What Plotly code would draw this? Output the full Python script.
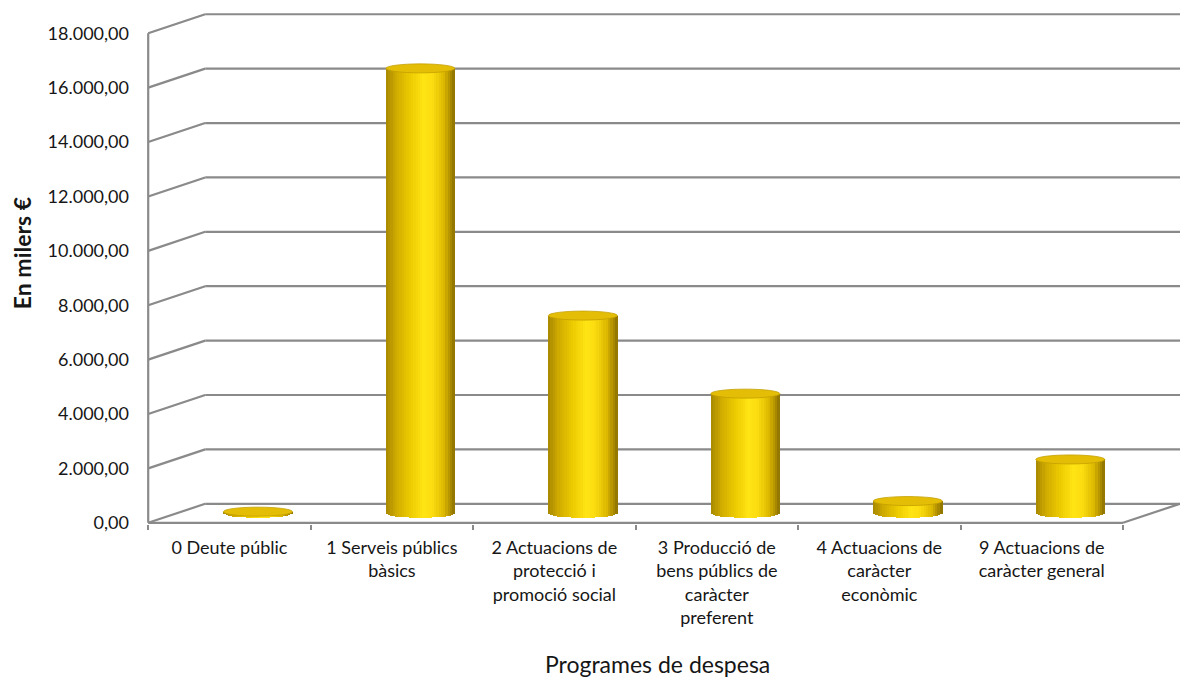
import math
import plotly.graph_objects as go

# ---------------- data ----------------
categories = [
    "0 Deute públic",
    "1 Serveis públics<br>bàsics",
    "2 Actuacions de<br>protecció i<br>promoció social",
    "3 Producció de<br>bens públics de<br>caràcter<br>preferent",
    "4 Actuacions de<br>caràcter<br>econòmic",
    "9 Actuacions de<br>caràcter general",
]
values = [60, 16360, 7270, 4400, 450, 1980]
y_ticks = [0, 2000, 4000, 6000, 8000, 10000, 12000, 14000, 16000, 18000]
y_title = "En milers €"
x_title = "Programes de despesa"

# ---------------- geometry (pixels -> data units) ----------------
W, H = 1180, 678
PX_X = 162.5          # pixels per category
PX_Y = 0.02718        # pixels per unit (value)
FRONT_LEFT = 148.0    # pixel x of front-left corner
FRONT_BOTTOM = 522.7  # pixel y of value 0 on the front plane
PAD = 1.2

dx = 57 / PX_X        # depth offset (back wall) in x units
dy = 19 / PX_Y        # depth offset in y units
cyl_w = 69 / PX_X     # cylinder width
ell = 4.5 / PX_Y      # half height of the cylinder ellipse
b0 = dy / 2           # base level of cylinders (mid depth)
cx = dx / 2           # cylinder center offset

m_l = FRONT_LEFT - PAD
m_r = 0
m_t = 13.2
m_b = H - FRONT_BOTTOM - PAD
x_range = [-0.5 - PAD / PX_X, -0.5 + (W - FRONT_LEFT) / PX_X]
y_range = [-PAD / PX_Y, (FRONT_BOTTOM - m_t) / PX_Y]

LINE = "#8a8a8a"
FONT = "Lato"
TXT = "#161616"

fig = go.Figure()

# ---------------- cylinder shading (strips) ----------------
stops = [(-1.0, (0xA6, 0x87, 0x00)), (-0.7, (0xCF, 0xAB, 0x00)), (-0.3, (0xEC, 0xCA, 0x00)),
         (0.1, (0xFF, 0xE4, 0x14)), (0.35, (0xFB, 0xDD, 0x10)), (0.7, (0xDC, 0xB7, 0x00)),
         (1.0, (0x8C, 0x70, 0x00))]


def shade(u):
    for (u0, c0), (u1, c1) in zip(stops[:-1], stops[1:]):
        if u0 <= u <= u1:
            t = (u - u0) / (u1 - u0)
            c = [round(a + (b - a) * t) for a, b in zip(c0, c1)]
            return "rgb(%d,%d,%d)" % tuple(c)
    return "rgb(%d,%d,%d)" % stops[-1][1]


N = 30
sw = cyl_w / N
for k in range(N):
    u = -1 + (2 * k + 1) / N
    s = math.sqrt(max(0.0, 1 - u * u))
    base_k = b0 - ell * s
    fig.add_trace(go.Bar(
        x=categories,
        y=[v + ell * s for v in values],
        base=base_k,
        width=sw * 1.2,
        offset=cx - cyl_w / 2 + k * sw - 0.1 * sw,
        marker=dict(color=shade(u), line=dict(width=0)),
        showlegend=False,
        hoverinfo="skip",
    ))

shapes = []
# ---------------- walls / grid ----------------
for t in y_ticks:
    shapes.append(dict(type="line", xref="x", yref="y", x0=-0.5, y0=t, x1=-0.5 + dx, y1=t + dy,
                       line=dict(color=LINE, width=2.2), layer="below"))
    shapes.append(dict(type="line", xref="x", yref="y", x0=-0.5 + dx, y0=t + dy, x1=x_range[1] + 0.2, y1=t + dy,
                       line=dict(color=LINE, width=2.2), layer="below"))
# vertical axis line (front-left edge)
shapes.append(dict(type="line", xref="x", yref="y", x0=-0.5, y0=0, x1=-0.5, y1=y_ticks[-1],
                   line=dict(color=LINE, width=2.2), layer="below"))
# floor front edge and right diagonal
n = len(categories)
shapes.append(dict(type="line", xref="x", yref="y", x0=-0.5, y0=0, x1=n - 0.5, y1=0,
                   line=dict(color=LINE, width=2.2), layer="below"))
shapes.append(dict(type="line", xref="x", yref="y", x0=n - 0.5, y0=0, x1=n - 0.5 + dx, y1=dy,
                   line=dict(color=LINE, width=2.2), layer="below"))

# ---------------- cylinder tops ----------------
for i, v in enumerate(values):
    shapes.append(dict(type="circle", xref="x", yref="y",
                       x0=i + cx - cyl_w / 2, x1=i + cx + cyl_w / 2,
                       y0=b0 + v - ell, y1=b0 + v + ell,
                       fillcolor="#E4BE06", line=dict(color="#C49F00", width=0.8), layer="above"))

fig.update_layout(
    width=W, height=H,
    margin=dict(l=m_l, r=m_r, t=m_t, b=m_b, autoexpand=False),
    paper_bgcolor="white", plot_bgcolor="white",
    barmode="overlay",
    bargap=0,
    separators=",.",
    font=dict(family=FONT, color=TXT),
    shapes=shapes,
    showlegend=False,
)

fig.update_xaxes(
    type="category", range=x_range, tickson="boundaries",
    ticks="outside", ticklen=5, tickwidth=1.5, tickcolor=LINE,
    showgrid=False, zeroline=False, showline=False,
    tickfont=dict(family=FONT, size=18, color=TXT),
    ticklabelstandoff=11,
    automargin=False, fixedrange=True,
)
fig.update_yaxes(
    range=y_range, tickvals=y_ticks, tickformat=",.2f",
    ticks="", showgrid=False, zeroline=False, showline=False,
    tickfont=dict(family=FONT, size=18, color=TXT),
    ticklabelstandoff=17,
    automargin=False, fixedrange=True,
)

dom_w = W - m_l - m_r
dom_h = H - m_t - m_b


def px_to_paper(px, py):
    return (px - m_l) / dom_w, (H - m_b - py) / dom_h


tx, ty = px_to_paper(22, 253)
fig.add_annotation(text="<b>" + y_title + "</b>", x=tx, y=ty, xref="paper", yref="paper",
                   textangle=-90, showarrow=False, xanchor="center", yanchor="middle",
                   font=dict(family=FONT, size=23, color=TXT))
tx, ty = px_to_paper(657, 664)
fig.add_annotation(text=x_title, x=tx, y=ty, xref="paper", yref="paper",
                   showarrow=False, xanchor="center", yanchor="middle",
                   font=dict(family=FONT, size=23, color=TXT))

fig.write_html(
    "out.html",
    config={"displayModeBar": False},
    post_script="document.body.style.margin='0px';document.body.style.overflow='hidden';",
)
